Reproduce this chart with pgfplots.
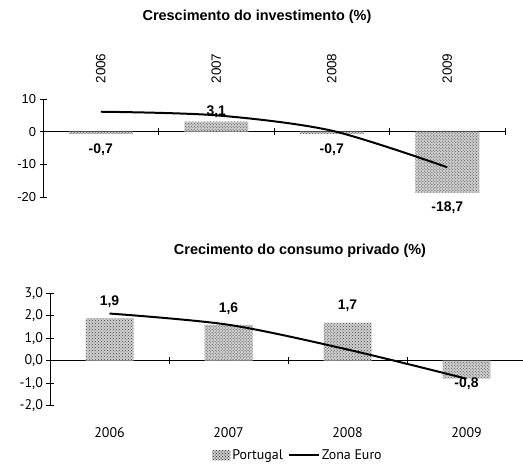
\documentclass[border=0pt]{standalone}
\usepackage{fontspec}
\setmainfont{Liberation Sans}
\newfontfamily\hum{PT Sans}
\usepackage{pgfplots}
\pgfplotsset{compat=1.18}
\usepackage{pgfplotstable}
\usetikzlibrary{patterns}

\pgfplotstableread{
x y
0 -0.7
1 3.1
2 -0.7
3 -18.7
}\invPT
\pgfplotstableread{
x y
0 6.1
1 5.0
2 0.3
3 -10.9
}\invEU
\pgfplotstableread{
x y
0 1.9
1 1.6
2 1.7
3 -0.8
}\conPT
\pgfplotstableread{
x y
0 2.1
1 1.6
2 0.5
3 -0.8
}\conEU

\tikzset{barstyle/.style={draw=none, fill=gray!38, postaction={pattern=crosshatch dots, pattern color=gray!50!black}}}
\newcommand{\lab}{\pgfmathprintnumber[use comma,fixed,fixed zerofill,precision=1,assume math mode=true]{\pgfplotspointmeta}}

\begin{document}
\begin{tikzpicture}
\path[use as bounding box] (0,0) rectangle (523bp,464bp);
\node[font=\bfseries\fontsize{14.5}{16}\selectfont] at (257bp,447bp) {Crescimento do investimento (\%)};
\node[font=\bfseries\fontsize{14.5}{16}\selectfont] at (300bp,213bp) {Crecimento do consumo privado (\%)};

% ---------- top panel: data ----------
\begin{axis}[at={(43bp,267bp)}, anchor=south west, scale only axis,
 width=462bp, height=98bp,
 xmin=-0.5, xmax=3.5, ymin=-20, ymax=10,
 axis y line*=left, axis x line*=middle,
 xtick={0.5,1.5,2.5,3.5}, xticklabels={},
 ytick={-20,-10,0,10}, yticklabels={-20,-10,0,10},
 tick align=center, major tick length=7bp,
 every tick/.style={black, line width=0.8pt},
 axis line style={line width=0.8pt},
 yticklabel style={font=\fontsize{13}{15}\selectfont},
 clip=false]
\addplot[ybar, bar width=64bp, barstyle, point meta=y,
  visualization depends on={y \as \rawy},
  nodes near coords={\lab},
  nodes near coords style={font=\bfseries\fontsize{14}{16}\selectfont, text=black,
    yshift={(\rawy<0)*(-6)}}]
  table[x=x,y=y]{\invPT};
\addplot[black, line width=2pt, smooth] table[x=x,y=y]{\invEU};
\end{axis}

% ---------- top panel: year labels ----------
\begin{axis}[at={(43bp,267bp)}, anchor=south west, scale only axis,
 width=462bp, height=98bp,
 xmin=-0.5, xmax=3.5, ymin=-20, ymax=10,
 hide y axis, axis x line*=top, x axis line style={draw=none},
 xtick={0,1,2,3}, xticklabels={2006,2007,2008,2009}, major tick length=0pt,
 xticklabel style={rotate=90, anchor=west, font=\fontsize{13.5}{15}\selectfont},
 xticklabel shift=12bp]
\addplot[draw=none] coordinates {(0,0)};
\end{axis}

% ---------- bottom panel: data ----------
\begin{axis}[at={(50bp,58.3bp)}, anchor=south west, scale only axis,
 width=476bp, height=112.4bp,
 xmin=-0.5, xmax=3.5, ymin=-2, ymax=3,
 axis y line*=left, axis x line*=middle,
 xtick={0.5,1.5,2.5}, xticklabels={},
 ytick={-2,-1,0,1,2,3}, yticklabels={{-2,0},{-1,0},{0,0},{1,0},{2,0},{3,0}},
 tick align=center, major tick length=7bp,
 every tick/.style={black, line width=0.8pt},
 axis line style={line width=0.8pt},
 yticklabel style={font=\hum\fontsize{14}{16}\selectfont},
 legend style={at={(0.521,-0.439)}, anchor=center, draw=none, fill=none,
   font=\hum\fontsize{14}{16}\selectfont, legend columns=2,
   /tikz/every even column/.append style={column sep=3bp},
   inner sep=0pt},
 clip=false]
\addplot[ybar, bar width=48bp, barstyle, point meta=y,
  visualization depends on={y \as \rawy},
  nodes near coords={\lab},
  nodes near coords style={font=\bfseries\fontsize{14}{16}\selectfont, text=black,
    yshift={(\rawy<0)*4+(\rawy>0)*7}},
  legend image code/.code={\fill[barstyle] (0bp,-5bp) rectangle (18bp,5bp);}]
  table[x=x,y=y]{\conPT};
\addlegendentry{Portugal}
\addplot[black, line width=2pt, smooth,
  legend image code/.code={\draw[black, line width=2pt] (0bp,0bp) -- (30bp,0bp);}]
  table[x=x,y=y]{\conEU};
\addlegendentry{Zona Euro}
\end{axis}

% ---------- bottom panel: year labels ----------
\begin{axis}[at={(50bp,58.3bp)}, anchor=south west, scale only axis,
 width=476bp, height=112.4bp,
 xmin=-0.5, xmax=3.5, ymin=-2, ymax=3,
 hide y axis, axis x line*=bottom, x axis line style={draw=none},
 xtick={0,1,2,3}, xticklabels={2006,2007,2008,2009}, major tick length=0pt,
 xticklabel style={font=\hum\fontsize{14}{16}\selectfont},
 xticklabel shift=18bp]
\addplot[draw=none] coordinates {(0,0)};
\end{axis}
\end{tikzpicture}
\end{document}
